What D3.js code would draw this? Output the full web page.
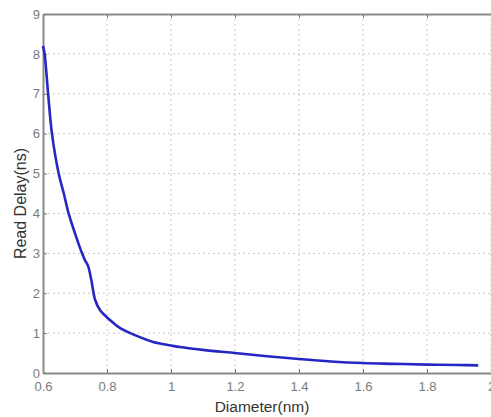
<!DOCTYPE html>
<html><head><meta charset="utf-8">
<script src="https://cdn.jsdelivr.net/npm/d3@7"></script>
<style>body{margin:0;background:#fff}svg{display:block}</style>
</head><body>
<script>
const diameter = [0.600,0.605,0.616,0.628,0.649,0.665,0.680,0.700,0.722,0.731,0.741,0.751,0.763,0.778,0.809,0.840,0.893,0.944,1.000,1.028,1.100,1.200,1.300,1.400,1.500,1.600,1.700,1.800,1.900,1.960];
const delay    = [8.20, 8.00, 7.00, 6.00, 5.00, 4.50, 4.00, 3.50, 3.00, 2.83, 2.68, 2.33, 1.83, 1.58, 1.33, 1.13, 0.93, 0.78, 0.69, 0.65, 0.58, 0.50, 0.42, 0.35, 0.29, 0.25, 0.23, 0.21, 0.20, 0.19];
const xTicks = [0.6,0.8,1.0,1.2,1.4,1.6,1.8,2.0];
const xTickLabels = ["0.6","0.8","1","1.2","1.4","1.6","1.8","2"];
const yTicks = [0,1,2,3,4,5,6,7,8,9];
const xTitle = "Diameter(nm)";
const yTitle = "Read Delay(ns)";

const W = 491, H = 417;
const L = 43, R = 491, T = 14, B = 373;
const svg = d3.select("body").append("svg").attr("width", W).attr("height", H);
const x = d3.scaleLinear().domain([0.6, 2.0]).range([L, R]);
const y = d3.scaleLinear().domain([0, 9]).range([B, T]);

// grid
const grid = svg.append("g").attr("stroke", "#c8c8c8").attr("stroke-width", 1).attr("stroke-dasharray", "2,3");
grid.selectAll("line.vx").data(xTicks.slice(1)).join("line")
  .attr("x1", d => x(d)).attr("x2", d => x(d)).attr("y1", T).attr("y2", B);
grid.selectAll("line.hy").data(yTicks.slice(1, -1)).join("line")
  .attr("x1", L).attr("x2", R).attr("y1", d => y(d)).attr("y2", d => y(d));

// axes
const fmt = d => xTickLabels[xTicks.indexOf(d)];
const xAxis = svg.append("g").attr("transform", `translate(0,${B})`)
  .call(d3.axisBottom(x).tickValues(xTicks).tickFormat(fmt).tickSizeInner(-4).tickSizeOuter(0).tickPadding(9));
const xAxisTop = svg.append("g").attr("transform", `translate(0,${T})`)
  .call(d3.axisTop(x).tickValues(xTicks).tickFormat("").tickSizeInner(-4).tickSizeOuter(0));
const yAxis = svg.append("g").attr("transform", `translate(${L},0)`)
  .call(d3.axisLeft(y).tickValues(yTicks).tickFormat(d3.format("d")).tickSizeInner(-4).tickSizeOuter(0).tickPadding(3));
[xAxis, xAxisTop, yAxis].forEach(g => {
  g.select(".domain").attr("stroke", "#8a8a8a").attr("stroke-width", 2);
  g.selectAll(".tick line").attr("stroke", "#777").attr("stroke-width", 1);
  g.selectAll(".tick text").attr("fill", "#7a7a7a").attr("font-family", "Liberation Sans, Arial, sans-serif").attr("font-size", 13);
});

// curve
const line = d3.line().x((d, i) => x(diameter[i])).y(d => y(d)).curve(d3.curveCatmullRom.alpha(0.5));
svg.append("path").datum(delay).attr("d", line)
  .attr("fill", "none").attr("stroke", "#2626c4").attr("stroke-width", 2.6).attr("stroke-linejoin", "round");

// titles
svg.append("text").attr("x", (L + R) / 2 - 5).attr("y", 412).attr("text-anchor", "middle")
  .attr("font-family", "Liberation Sans, Arial, sans-serif").attr("font-size", 15.5).attr("fill", "#333").text(xTitle);
svg.append("text").attr("transform", `translate(26,${(T + B) / 2 + 10}) rotate(-90)`).attr("text-anchor", "middle")
  .attr("font-family", "Liberation Sans, Arial, sans-serif").attr("font-size", 16).attr("fill", "#333").text(yTitle);
</script>
</body></html>
